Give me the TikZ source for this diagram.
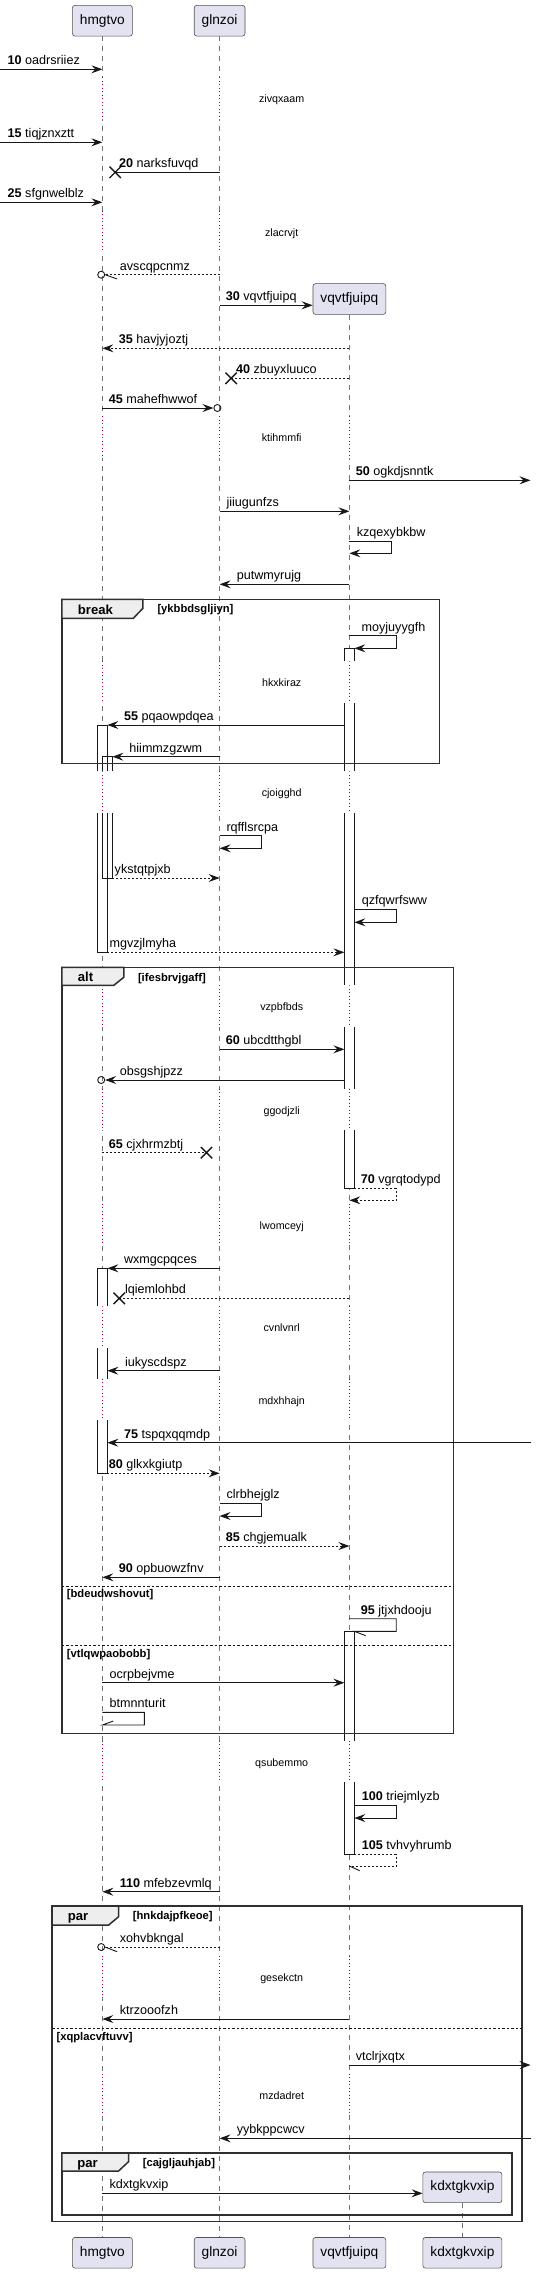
\documentclass[tikz,border=0pt]{standalone}
\usepackage{fontspec}
\setmainfont{Liberation Sans}
\usepackage{tikz}
\usetikzlibrary{arrows.meta,positioning,shapes.misc}
\definecolor{partfill}{HTML}{E2E2F0}
\definecolor{delayred}{HTML}{A80036}
\definecolor{tabfill}{HTML}{EEEEEE}
\definecolor{ink}{HTML}{181818}

\begin{document}
\begin{tikzpicture}[x=1pt,y=-1pt,
  part/.style={draw=ink!75,fill=partfill,rounded corners=2.5pt,line width=0.6pt,minimum height=30.7pt,inner xsep=7.5pt,inner ysep=0pt,font=\fontsize{13.7}{16}\selectfont},
  life/.style={draw=ink!60,line width=0.6pt,dash pattern=on 5pt off 5pt},
  gap/.style={draw=white,line width=2.5pt},
  delay/.style={draw=delayred,line width=0.8pt,dash pattern=on 1pt off 2.5pt},
  actbox/.style={fill=white},
  actline/.style={draw=ink,line width=0.9pt},
  wire/.style={draw=ink,line width=0.9pt},
  msg/.style={wire,-{Stealth[length=11pt,width=8pt,inset=4pt]}},
  dmsg/.style={msg,dash pattern=on 2pt off 2pt},
  dwire/.style={wire,dash pattern=on 2pt off 2pt},
  lost/.style={cross out,draw=ink,line width=1.4pt,minimum size=10pt,inner sep=0pt},
  circ/.style={circle,draw=ink,line width=0.9pt,minimum size=7pt,inner sep=0pt},
  lbl/.style={anchor=base west,inner sep=0pt,font=\fontsize{12.6}{14}\selectfont},
  dly/.style={anchor=base,inner sep=0pt,font=\fontsize{10.7}{12}\selectfont},
  grpframe/.style={draw=ink!90,line width=1.5pt},
  tab/.style={grpframe,fill=tabfill},
  tabtxt/.style={anchor=base,inner sep=0pt,font=\bfseries\fontsize{13.1}{15}\selectfont},
  grd/.style={anchor=base west,inner sep=0pt,font=\bfseries\fontsize{11.2}{13}\selectfont},
  elsesep/.style={draw=ink,line width=0.9pt,dash pattern=on 2.5pt off 2pt}
]
\useasboundingbox (0,0) rectangle (536,2273);

% participants
\node[part] (hmT) at (102.4,20.7) {hmgtvo};
\node[part] (glT) at (219.6,20.7) {glnzoi};
\node[part] (vqC) at (349.4,299) {vqvtfjuipq};
\node[part] (kdC) at (462.4,2187.3) {kdxtgkvxip};
\node[part] (hmB) at (102.4,2252.8) {hmgtvo};
\node[part] (glB) at (219.6,2252.8) {glnzoi};
\node[part] (vqB) at (349.4,2252.8) {vqvtfjuipq};
\node[part] (kdB) at (462.4,2252.8) {kdxtgkvxip};

\coordinate (lft) at (0,0);
\coordinate (rgt) at (530.5,0);
\coordinate (hmR) at (107.4,0);
\coordinate (hmN) at (112.4,0);
\coordinate (vqL) at (344.4,0);
\coordinate (vqR) at (354.4,0);

% lifelines
\draw[life] (hmT.south) -- (hmB.north);
\draw[life] (glT.south) -- (glB.north);
\draw[life] (vqC.south) -- (vqB.north);
\draw[life] (kdC.south) -- (kdB.north);

% delays
\foreach \t in {99.3,232.7}
  \foreach \p in {hmT,glT} {
    \draw[gap] (\p |- 0,\t-22) -- (\p |- 0,\t+19.5);
    \draw[delay] (\p |- 0,\t-22) -- (\p |- 0,\t+19.5);
  }
\foreach \t in {438.3,683.3,793.3,1007.3,1110.7,1225.7,1328.3,1400.7,1762.7,1977.7,2095.7}
  \foreach \p in {hmT,glT,vqC} {
    \draw[gap] (\p |- 0,\t-22) -- (\p |- 0,\t+19.5);
    \draw[delay] (\p |- 0,\t-22) -- (\p |- 0,\t+19.5);
  }
\node[dly] (d1) at (281.7,102.8) {zivqxaam};
\node[dly] (d2) at (281.7,236.2) {zlacrvjt};
\node[dly] (d3) at (281.7,441.8) {ktihmmfi};
\node[dly] (d4) at (281.7,686.8) {hkxkiraz};
\node[dly] (d5) at (281.7,796.8) {cjoigghd};
\node[dly] (d6) at (281.7,1010.8) {vzpbfbds};
\node[dly] (d7) at (281.7,1114.2) {ggodjzli};
\node[dly] (d8) at (281.7,1229.2) {lwomceyj};
\node[dly] (d9) at (281.7,1331.8) {cvnlvnrl};
\node[dly] (d10) at (281.7,1404.2) {mdxhhajn};
\node[dly] (d11) at (281.7,1766.2) {qsubemmo};
\node[dly] (d12) at (281.7,1981.2) {gesekctn};
\node[dly] (d13) at (281.7,2099.2) {mzdadret};

% activations
\path[actbox] (97.4,725) rectangle (107.4,771.3) (97.4,812.8) rectangle (107.4,952.3)
  (102.4,756.7) rectangle (112.4,771.3) (102.4,812.8) rectangle (112.4,878);
\draw[actline] (97.4,771.3) -- (97.4,725) -- (107.4,725) -- (107.4,771.3)
  (97.4,812.8) -- (97.4,952.3) -- (107.4,952.3) -- (107.4,812.8)
  (102.4,771.3) -- (102.4,756.7) -- (112.4,756.7) -- (112.4,771.3)
  (102.4,812.8) -- (102.4,878) -- (112.4,878) -- (112.4,812.8);
\path[actbox] (344.4,648.3) rectangle (354.4,661.3) (344.4,702.8) rectangle (354.4,771.3)
  (344.4,812.8) rectangle (354.4,985.3) (344.4,1026.8) rectangle (354.4,1088.7)
  (344.4,1130.2) rectangle (354.4,1188.3);
\draw[actline] (344.4,661.3) -- (344.4,648.3) -- (354.4,648.3) -- (354.4,661.3)
  (344.4,702.8) -- (344.4,771.3) (354.4,702.8) -- (354.4,771.3)
  (344.4,812.8) -- (344.4,985.3) (354.4,812.8) -- (354.4,985.3)
  (344.4,1026.8) -- (344.4,1088.7) (354.4,1026.8) -- (354.4,1088.7)
  (344.4,1130.2) -- (344.4,1188.3) -- (354.4,1188.3) -- (354.4,1130.2);
\path[actbox] (97.4,1268.3) rectangle (107.4,1306.3) (97.4,1347.8) rectangle (107.4,1378.7)
  (97.4,1420.2) rectangle (107.4,1473.3);
\draw[actline] (97.4,1306.3) -- (97.4,1268.3) -- (107.4,1268.3) -- (107.4,1306.3)
  (97.4,1347.8) -- (97.4,1378.7) (107.4,1347.8) -- (107.4,1378.7)
  (97.4,1420.2) -- (97.4,1473.3) -- (107.4,1473.3) -- (107.4,1420.2);
\path[actbox] (344.4,1631.3) rectangle (354.4,1740.7) (344.4,1782.2) rectangle (354.4,1854.3);
\draw[actline] (344.4,1740.7) -- (344.4,1631.3) -- (354.4,1631.3) -- (354.4,1740.7)
  (344.4,1782.2) -- (344.4,1854.3) -- (354.4,1854.3) -- (354.4,1782.2);

% groups
\draw[grpframe] (61.9,599.3) rectangle (439.3,763.5);
\draw[tab] (61.9,599.3) -- (142.9,599.3) -- (142.9,608.3) -- (133.3,618.3) -- (61.9,618.3) -- cycle;
\node[tabtxt] (brk) at (95.4,614) {break};
\node[grd] (g1) at (157.3,612.8) {[ykbbdsgljiyn]};

\draw[grpframe] (61.9,967.3) rectangle (453.7,1733.3);
\draw[tab] (61.9,967.3) -- (123.8,967.3) -- (123.8,977.3) -- (113.8,985.3) -- (61.9,985.3) -- cycle;
\node[tabtxt] (alt) at (85.5,981.8) {alt};
\node[grd] (g2) at (137.8,981) {[ifesbrvjgaff]};
\draw[elsesep] (61.9,1586.3) -- (453.7,1586.3);
\node[grd] (g3) at (66.7,1597.5) {[bdeudwshovut]};
\draw[elsesep] (61.9,1645.3) -- (453.7,1645.3);
\node[grd] (g4) at (66.7,1657) {[vtlqwpaobobb]};

\draw[grpframe] (52,1906) rectangle (522.1,2221.7);
\draw[tab] (52,1906) -- (118.6,1906) -- (118.6,1916.7) -- (108.7,1925) -- (52,1925) -- cycle;
\node[tabtxt] (par1) at (78,1920.5) {par};
\node[grd] (g5) at (132.7,1919.5) {[hnkdajpfkeoe]};
\draw[elsesep] (52,2028) -- (522.1,2028);
\node[grd] (g6) at (56.4,2040) {[xqplacvftuvv]};

\draw[grpframe] (61.9,2153) rectangle (511.8,2215);
\draw[tab] (61.9,2153) -- (128.5,2153) -- (128.5,2161.7) -- (118.6,2171) -- (61.9,2171) -- cycle;
\node[tabtxt] (par2) at (87.5,2167.5) {par};
\node[grd] (g7) at (142.6,2166) {[cajgljauhjab]};

% messages
\draw[msg] (lft |- 0,69.3) -- (hmT |- 0,69.3);
\node[lbl] (t10) at (7.5,64.8) {\textbf{10} oadrsriiez};
\draw[msg] (lft |- 0,142.3) -- (hmT |- 0,142.3);
\node[lbl] (t15) at (7.5,137.8) {\textbf{15} tiqjznxztt};
\node[lost] (x20) at (115.2,172.3) {};
\draw[wire] (glT |- x20) -- (x20.center);
\node[lbl] (t20) at (119,167.8) {\textbf{20} narksfuvqd};
\draw[msg] (lft |- 0,202.3) -- (hmT |- 0,202.3);
\node[lbl] (t25) at (7.5,197.8) {\textbf{25} sfgnwelblz};
\node[circ] (c1) at (101.2,274.7) {};
\draw[dwire] (glT |- c1) -- (c1.east);
\draw[wire] (c1.east) -- ++(12,4.3);
\node[lbl] (tavs) at (119.7,270.2) {avscqpcnmz};
\draw[msg] (glT |- 0,305.3) -- (vqC.west |- 0,305.3);
\node[lbl] (t30) at (225.6,300.8) {\textbf{30} vqvtfjuipq};
\draw[dmsg] (vqC |- 0,348.3) -- (hmT |- 0,348.3);
\node[lbl] (t35) at (118.6,343.8) {\textbf{35} havjyjoztj};
\node[lost] (x40) at (231.1,378.3) {};
\draw[dwire] (vqC |- x40) -- (x40.center);
\node[lbl] (t40) at (235.9,373.8) {\textbf{40} zbuyxluuco};
\node[circ] (c2) at (217.4,408) {};
\draw[msg] (hmT |- c2) -- (c2.west);
\node[lbl] (t45) at (108.7,403.5) {\textbf{45} mahefhwwof};
\draw[msg] (vqC |- 0,480.3) -- (rgt |- 0,480.3);
\node[lbl] (t50) at (355.6,475.8) {\textbf{50} ogkdjsnntk};
\draw[msg] (glT |- 0,511.3) -- (vqC |- 0,511.3);
\node[lbl] (tjii) at (226.3,506.8) {jiiugunfzs};
\draw[msg] (vqC |- 0,541.3) -- ++(42.1,0) -- ++(0,12) -- (vqC |- 0,553.3);
\node[lbl] (tkzq) at (356.6,536.8) {kzqexybkbw};
\draw[msg] (vqC |- 0,584.3) -- (glT |- 0,584.3);
\node[lbl] (tput) at (236.6,579.8) {putwmyrujg};
\draw[msg] (vqC |- 0,635.7) -- ++(46.8,0) -- ++(0,12.6) -- (vqR |- 0,648.3);
\node[lbl] (tmoy) at (361.4,631.2) {moyjuyygfh};
\draw[msg] (vqL |- 0,725) -- (hmR |- 0,725);
\node[lbl] (t55) at (123.8,720.5) {\textbf{55} pqaowpdqea};
\draw[msg] (glT |- 0,756.7) -- (hmN |- 0,756.7);
\node[lbl] (thii) at (129.2,752.2) {hiimmzgzwm};
\draw[msg] (glT |- 0,835.7) -- ++(42,0) -- ++(0,12.6) -- (glT |- 0,848.3);
\node[lbl] (trqf) at (226.3,831.2) {rqfflsrcpa};
\draw[dmsg] (hmN |- 0,878) -- (glT |- 0,878);
\node[lbl] (tyks) at (114.5,873.5) {ykstqtpjxb};
\draw[msg] (vqR |- 0,909.3) -- ++(41.8,0) -- ++(0,13) -- (vqR |- 0,922.3);
\node[lbl] (tqzf) at (361.7,904.8) {qzfqwrfsww};
\draw[dmsg] (hmR |- 0,952.3) -- (vqL |- 0,952.3);
\node[lbl] (tmgv) at (109.4,947.8) {mgvzjlmyha};
\draw[msg] (glT |- 0,1049.3) -- (vqL |- 0,1049.3);
\node[lbl] (t60) at (225.6,1044.8) {\textbf{60} ubcdtthgbl};
\node[circ] (c3) at (101.2,1080) {};
\draw[msg] (vqL |- c3) -- (c3.east);
\node[lbl] (tobs) at (119.7,1075.5) {obsgshjpzz};
\node[lost] (x65) at (206.5,1152.7) {};
\draw[dwire] (hmT |- x65) -- (x65.center);
\node[lbl] (t65) at (108.7,1148.2) {\textbf{65} cjxhrmzbtj};
\draw[dmsg] (vqR |- 0,1188.3) -- ++(41.8,0) -- ++(0,12) -- (vqC |- 0,1200.3);
\node[lbl] (t70) at (360.7,1183.8) {\textbf{70} vgrqtodypd};
\draw[msg] (glT |- 0,1268.3) -- (hmR |- 0,1268.3);
\node[lbl] (twxm) at (123.8,1263.8) {wxmgcpqces};
\node[lost] (xlq) at (119.3,1298.3) {};
\draw[dwire] (vqC |- xlq) -- (xlq.center);
\node[lbl] (tlqi) at (124.8,1293.8) {lqiemlohbd};
\draw[msg] (glT |- 0,1370.7) -- (hmR |- 0,1370.7);
\node[lbl] (tiuk) at (124.8,1366.2) {iukyscdspz};
\draw[msg] (rgt |- 0,1442.7) -- (hmR |- 0,1442.7);
\node[lbl] (t75) at (123.8,1438.2) {\textbf{75} tspqxqqmdp};
\draw[dmsg] (hmR |- 0,1473.3) -- (glT |- 0,1473.3);
\node[lbl] (t80) at (108.7,1468.8) {\textbf{80} glkxkgiutp};
\draw[msg] (glT |- 0,1503.3) -- ++(42,0) -- ++(0,12.7) -- (glT |- 0,1516);
\node[lbl] (tclr) at (226.3,1498.8) {clrbhejglz};
\draw[dmsg] (glT |- 0,1546) -- (vqC |- 0,1546);
\node[lbl] (t85) at (225.6,1541.5) {\textbf{85} chgjemualk};
\draw[msg] (glT |- 0,1577.3) -- (hmT |- 0,1577.3);
\node[lbl] (t90) at (118.6,1572.8) {\textbf{90} opbuowzfnv};
\draw[wire] (vqC |- 0,1618.7) -- ++(46.8,0) -- ++(0,12.6) -- (vqR |- 0,1631.3) -- ++(11.3,4.4);
\node[lbl] (t95) at (360.7,1614.2) {\textbf{95} jtjxhdooju};
\draw[msg] (hmT |- 0,1682.7) -- (vqL |- 0,1682.7);
\node[lbl] (tocr) at (109.4,1678.2) {ocrpbejvme};
\draw[wire] (hmT |- 0,1712.3) -- ++(41.9,0) -- ++(0,12.7) -- (hmT |- 0,1725) -- ++(10.9,-4);
\node[lbl] (tbtm) at (109.4,1707.8) {btmnnturit};
\draw[msg] (vqR |- 0,1805.3) -- ++(41.8,0) -- ++(0,12.7) -- (vqR |- 0,1818);
\node[lbl] (t100) at (361.7,1800.8) {\textbf{100} triejmlyzb};
\draw[dwire] (vqR |- 0,1854.3) -- ++(41.8,0) -- ++(0,11.7) -- (vqC |- 0,1866);
\draw[wire] (vqC |- 0,1866) -- ++(10.3,4.7);
\node[lbl] (t105) at (361.7,1849.8) {\textbf{105} tvhvyhrumb};
\draw[msg] (glT |- 0,1891.7) -- (hmT |- 0,1891.7);
\node[lbl] (t110) at (119.7,1887.2) {\textbf{110} mfebzevmlq};
\node[circ] (c4) at (101.2,1947) {};
\draw[dwire] (glT |- c4) -- (c4.east);
\draw[wire] (c4.east) -- ++(12,4.7);
\node[lbl] (txoh) at (119.7,1942.5) {xohvbkngal};
\draw[msg] (vqC |- 0,2019) -- (hmT |- 0,2019);
\node[lbl] (tktr) at (119.7,2014.5) {ktrzooofzh};
\draw[msg] (vqC |- 0,2065) -- (rgt |- 0,2065);
\node[lbl] (tvtc) at (355.6,2060.5) {vtclrjxqtx};
\draw[msg] (rgt |- 0,2138.3) -- (glT |- 0,2138.3);
\node[lbl] (tyyb) at (236.6,2133.8) {yybkppcwcv};
\draw[msg] (hmT |- 0,2193.3) -- (kdC.west |- 0,2193.3);
\node[lbl] (tkdx) at (109.4,2188.8) {kdxtgkvxip};
\end{tikzpicture}
\end{document}
